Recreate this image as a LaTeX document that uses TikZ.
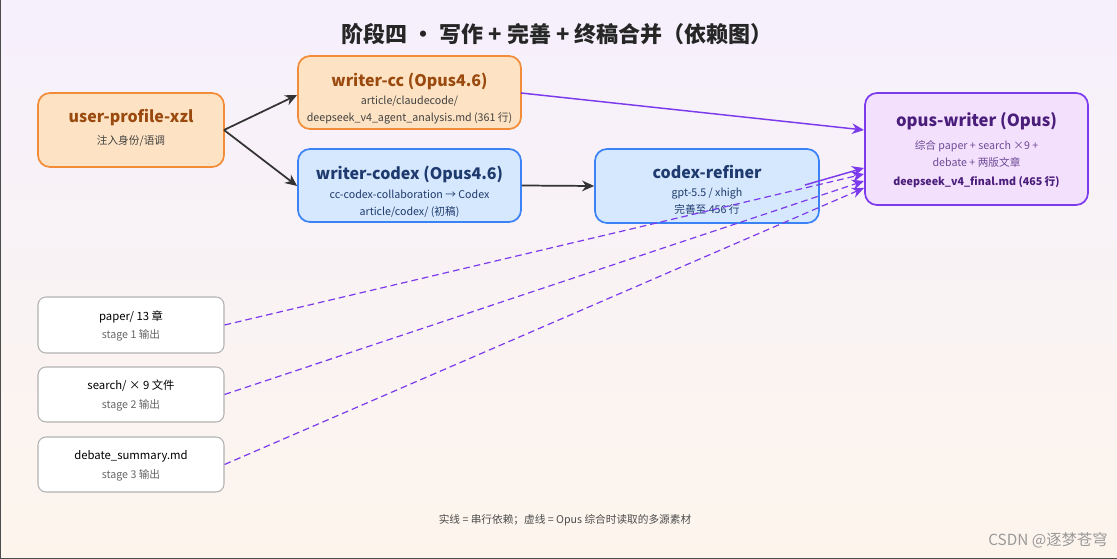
\documentclass[tikz,border=0pt]{standalone}
\usepackage{fontspec}
\setmainfont{Noto Sans CJK SC}
\usetikzlibrary{arrows.meta}
\definecolor{orf}{HTML}{FDE3C3}\definecolor{ord}{HTML}{F28C38}\definecolor{ort}{HTML}{9A4A0E}
\definecolor{blf}{HTML}{D6E8FD}\definecolor{bld}{HTML}{3B82F6}\definecolor{blt}{HTML}{1E3A6E}
\definecolor{puf}{HTML}{F3E0FD}\definecolor{pud}{HTML}{7C3AED}\definecolor{put}{HTML}{4A1D7A}
\definecolor{bgt}{HTML}{F6F0FD}\definecolor{bgb}{HTML}{FDF5EC}
\begin{document}
\begin{tikzpicture}[x=0.75pt,y=-0.75pt,
 box/.style={draw,rounded corners=9pt,line width=1.3pt,inner sep=0pt,align=center},
 org/.style={box,fill=orf,draw=ord,text=ort},
 blu/.style={box,fill=blf,draw=bld,text=blt},
 pur/.style={box,fill=puf,draw=pud,text=put},
 src/.style={box,fill=white,draw=gray!60,line width=0.8pt,rounded corners=6pt,text=black!80},
 ttl/.style={font=\fontsize{12}{14}\selectfont\bfseries},
 sub/.style={font=\fontsize{8}{12.5}\selectfont,align=center},
 arr/.style={-{Stealth[length=9pt,width=8pt]},line width=1.3pt,draw=black!80},
 parr/.style={-{Stealth[length=9pt,width=8pt]},line width=1.1pt,draw=pud},
 darr/.style={parr,dash pattern=on 5pt off 3pt,line width=0.9pt}]
\useasboundingbox (0,0) rectangle (1117,559);
\shade[top color=bgt,bottom color=bgb] (0,0) rectangle (1117,559);
\draw[black!70,line width=1pt] (0.5,0) -- (0.5,558.5) -- (1117,558.5);
\node[font=\fontsize{16.5}{18}\selectfont\bfseries,text=black!85] (title) at (557,34) {阶段四 · 写作 + 完善 + 终稿合并（依赖图）};
\node[org,minimum width=186*0.75pt,minimum height=74*0.75pt] (up) at (131,130) {};
\node[ttl,text=ort] (upt) at (131,118) {user-profile-xzl};
\node[sub,text=black!75] (ups) at (131,141) {注入身份/语调};
\node[org,minimum width=223*0.75pt,minimum height=73*0.75pt] (wc) at (409.5,92.5) {};
\node[ttl,text=ort] (wct) at (409.5,81) {writer-cc (Opus4.6)};
\node[sub,text=black!75] (wcs) at (409.5,110) {article/claudecode/\\deepseek\_v4\_agent\_analysis.md (361 行)};
\node[blu,minimum width=223*0.75pt,minimum height=73*0.75pt] (wx) at (409.5,185.5) {};
\node[ttl,text=blt] (wxt) at (409.5,174) {writer-codex (Opus4.6)};
\node[sub,text=blt] (wxs) at (409.5,204) {cc-codex-collaboration → Codex\\article/codex/ (初稿)};
\node[blu,minimum width=224*0.75pt,minimum height=74*0.75pt] (rf) at (707,186) {};
\node[ttl,text=blt] (rft) at (707,172) {codex-refiner};
\node[sub,text=blt] (rfs) at (707,201) {gpt-5.5 / xhigh\\完善至 456 行};
\node[pur,minimum width=223*0.75pt,minimum height=112*0.75pt] (ow) at (976.5,149) {};
\node[ttl,font=\fontsize{12.5}{14}\selectfont\bfseries,text=put] (owt) at (976.5,121) {opus-writer (Opus)};
\node[sub,text=put!80] (ows) at (976.5,154) {综合 paper + search ×9 +\\debate + 两版文章};
\node[sub,font=\fontsize{8}{12}\selectfont\bfseries,text=put] (owf) at (976.5,182) {deepseek\_v4\_final.md (465 行)};
\node[src,minimum width=186*0.75pt,minimum height=56*0.75pt] (pp) at (131,325) {};
\node[sub,font=\fontsize{8.5}{12}\selectfont] at (131,317) {paper/ 13 章};
\node[sub,text=black!60] at (131,335) {stage 1 输出};
\node[src,minimum width=186*0.75pt,minimum height=55*0.75pt] (se) at (131,394.5) {};
\node[sub,font=\fontsize{8.5}{12}\selectfont] at (131,386) {search/ × 9 文件};
\node[sub,text=black!60] at (131,405) {stage 2 输出};
\node[src,minimum width=186*0.75pt,minimum height=55*0.75pt] (db) at (131,464.5) {};
\node[sub,font=\fontsize{8.5}{12}\selectfont] at (131,456) {debate\_summary.md};
\node[sub,text=black!60] at (131,475) {stage 3 输出};
\coordinate (u0) at (224,130);
\draw[arr] (u0) -- (wc.west |- 0,95);
\draw[arr] (u0) -- (wx.west |- 0,186);
\draw[arr] (wx.east) -- (rf.west);
\draw[parr] (521,93) -- (864,130);
\draw[parr] (805,185) -- (864,168);
\draw[darr] (pp.east) -- (864,174);
\draw[darr] (se.east) -- (864,181);
\draw[darr] (db.east) -- (864,188);
\node[sub,text=black!70] (note) at (565,520) {实线 = 串行依赖；虚线 = Opus 综合时读取的多源素材};
\node[font=\fontsize{11.5}{14}\selectfont,text=black!40] (wm) at (1048,540) {CSDN @逐梦苍穹};
\end{tikzpicture}
\end{document}
